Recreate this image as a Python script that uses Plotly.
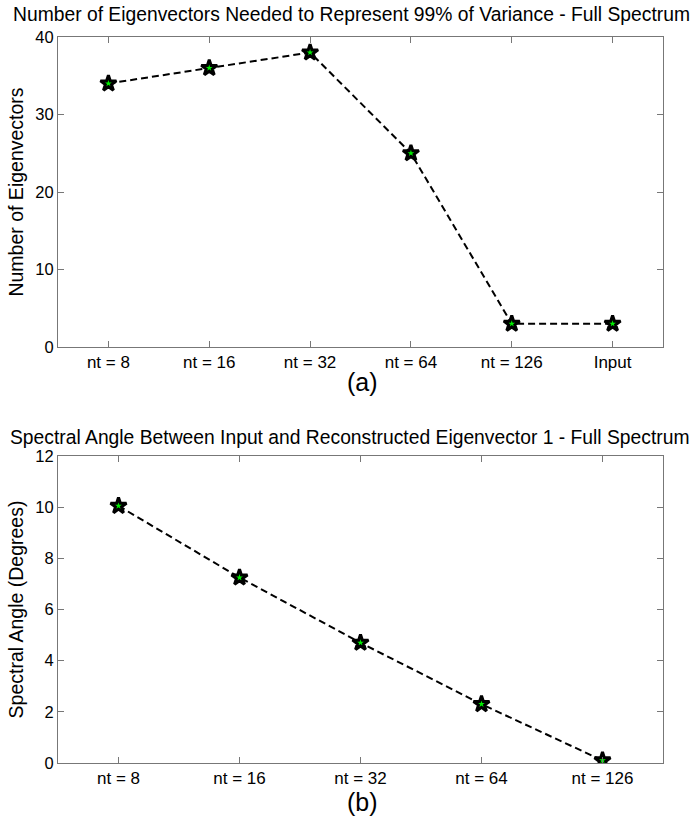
import plotly.graph_objects as go

cats_a = ["nt = 8", "nt = 16", "nt = 32", "nt = 64", "nt = 126", "Input"]
eig_counts = [34, 36, 38, 25, 3, 3]

cats_b = ["nt = 8", "nt = 16", "nt = 32", "nt = 64", "nt = 126"]
spec_angle = [10.05, 7.25, 4.7, 2.3, 0.1]

W, H = 699, 818
FONT = "Liberation Sans, Arial, Helvetica, sans-serif"

def py(y):
    return 1 - y / H

def pxx(x):
    return x / W

fig = go.Figure()

marker = dict(symbol="star", size=12, color="#00ee00", line=dict(color="black", width=3))
line = dict(color="black", width=2, dash="7px,4px")

fig.add_trace(go.Scatter(x=cats_a, y=eig_counts, mode="lines+markers", line=line,
                         marker=marker, xaxis="x", yaxis="y", showlegend=False))
fig.add_trace(go.Scatter(x=cats_b, y=spec_angle, mode="lines+markers", line=line,
                         marker=marker, xaxis="x2", yaxis="y2", showlegend=False))

axis_common = dict(showline=True, linecolor="#777777", linewidth=1, mirror="ticks",
                   ticks="inside", ticklen=6, tickcolor="#777777", showgrid=False,
                   zeroline=False, automargin=False)
xtick = dict(size=17, color="black", family=FONT)
ytick = dict(size=16.5, color="black", family=FONT)

fig.update_layout(
    width=W, height=H,
    margin=dict(l=0, r=0, t=0, b=0),
    paper_bgcolor="white", plot_bgcolor="white",
    font=dict(family=FONT, color="black"),
    xaxis=dict(domain=[pxx(58), pxx(663)], anchor="y", type="category",
               range=[-0.5, 5.5], tickfont=xtick, **axis_common),
    yaxis=dict(domain=[py(347), py(37)], anchor="x", range=[0, 40],
               tickvals=[0, 10, 20, 30, 40], tickfont=ytick,
               title=dict(text="Number of Eigenvectors", font=dict(size=19.5), standoff=6),
               **axis_common),
    xaxis2=dict(domain=[pxx(58), pxx(663)], anchor="y2", type="category",
                range=[-0.5, 4.5], tickfont=xtick, **axis_common),
    yaxis2=dict(domain=[py(763), py(456)], anchor="x2", range=[0, 12],
                tickvals=[0, 2, 4, 6, 8, 10, 12], tickfont=ytick,
                title=dict(text="Spectral Angle (Degrees)", font=dict(size=19.5), standoff=6),
                **axis_common),
    annotations=[
        dict(text="Number of Eigenvectors Needed to Represent 99% of Variance - Full Spectrum",
             x=pxx(351), y=py(14), xref="paper", yref="paper", showarrow=False,
             xanchor="center", yanchor="middle", font=dict(size=19.3, color="black")),
        dict(text="Spectral Angle Between Input and Reconstructed Eigenvector 1 - Full Spectrum",
             x=pxx(350), y=py(437), xref="paper", yref="paper", showarrow=False,
             xanchor="center", yanchor="middle", font=dict(size=19.3, color="black")),
        dict(text="(a)", x=pxx(362), y=py(382), xref="paper", yref="paper", showarrow=False,
             xanchor="center", yanchor="middle", font=dict(size=25, color="black")),
        dict(text="(b)", x=pxx(362), y=py(802), xref="paper", yref="paper", showarrow=False,
             xanchor="center", yanchor="middle", font=dict(size=25, color="black")),
    ],
)

fig.write_html("out.html", config={"displayModeBar": False},
               post_script="document.body.style.margin='0';document.body.style.overflow='hidden';")
